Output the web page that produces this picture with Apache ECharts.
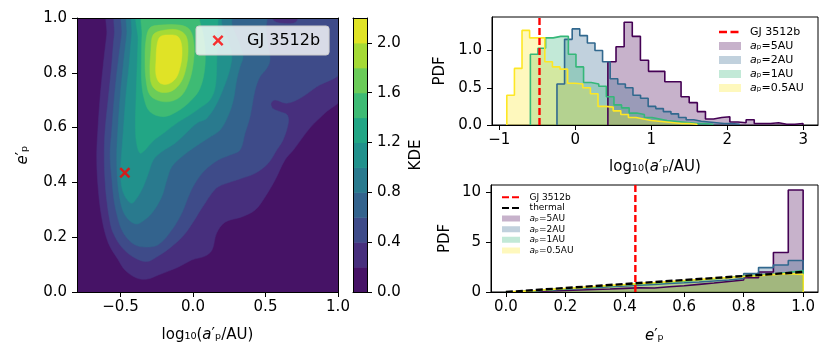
<!DOCTYPE html>
<html>
<head>
<meta charset="utf-8">
<script src="https://cdn.jsdelivr.net/npm/echarts@6/dist/echarts.min.js"></script>
<style>
html, body { margin: 0; padding: 0; background: #fff; }
#chart { width: 830px; height: 359px; }
</style>
</head>
<body>
<div id="chart"></div>
<script>
var FONT = 'DejaVu Sans';

// ---- left panel: KDE filled contours (outline of region >= level), log10(a'), e'
var kdeLevels = [0.0, 0.2, 0.4, 0.6, 0.8, 1.0, 1.2, 1.4, 1.6, 1.8, 2.0, 2.2];
var kdeColors = ['#461366', '#472f7d', '#3e4b89', '#33638d', '#297a8e', '#21918c',
    '#22a685', '#3ebb74', '#6bcc59', '#a5da36', '#e0e326'];
var contour02 = [[-0.572, 1.03], [-0.595, 0.938], [-0.619, 0.828], [-0.641, 0.708], [-0.657, 0.584],
    [-0.664, 0.5], [-0.657, 0.398], [-0.630, 0.274], [-0.584, 0.179], [-0.515, 0.117], [-0.469, 0.080],
    [-0.388, 0.051], [-0.317, 0.047], [-0.239, 0.062], [-0.101, 0.091], [-0.009, 0.117], [0.083, 0.131],
    [0.131, 0.153], [0.163, 0.215], [0.221, 0.255], [0.336, 0.274], [0.428, 0.299], [0.497, 0.347],
    [0.566, 0.409], [0.634, 0.482], [0.692, 0.518], [0.807, 0.599], [0.910, 0.653], [1.03, 0.715], [1.03, 1.03]];
var contour04 = [[-0.515, 1.03], [-0.543, 0.938], [-0.561, 0.828], [-0.584, 0.708], [-0.607, 0.584],
    [-0.612, 0.5], [-0.607, 0.409], [-0.595, 0.336], [-0.572, 0.255], [-0.55, 0.215], [-0.492, 0.164],
    [-0.412, 0.128], [-0.319, 0.111], [-0.241, 0.131], [-0.159, 0.161], [-0.069, 0.204], [0.0, 0.255],
    [0.048, 0.296], [0.083, 0.324], [0.129, 0.360], [0.174, 0.384], [0.267, 0.403], [0.336, 0.415],
    [0.428, 0.433], [0.519, 0.470], [0.577, 0.518], [0.621, 0.555], [0.657, 0.616], [0.65, 0.646],
    [0.6, 0.658], [0.55, 0.670], [0.538, 0.689], [0.566, 0.701], [0.646, 0.689], [0.738, 0.707],
    [0.853, 0.749], [1.03, 0.81], [1.03, 1.03], [0.752, 1.03], [0.71, 0.985], [0.634, 0.980],
    [0.559, 0.989], [0.517, 1.03]];
var contour06 = [[-0.469, 1.03], [-0.492, 0.938], [-0.519, 0.828], [-0.543, 0.708], [-0.561, 0.584],
    [-0.572, 0.5], [-0.559, 0.409], [-0.545, 0.336], [-0.524, 0.281], [-0.497, 0.234], [-0.455, 0.197],
    [-0.4, 0.172], [-0.331, 0.164], [-0.241, 0.172], [-0.147, 0.226], [-0.078, 0.287], [-0.032, 0.348],
    [0.014, 0.397], [0.083, 0.445], [0.174, 0.482], [0.255, 0.5], [0.324, 0.518], [0.359, 0.580],
    [0.393, 0.639], [0.428, 0.737], [0.462, 0.786], [0.508, 0.816], [0.531, 0.847], [0.517, 0.901],
    [0.503, 0.956], [0.497, 1.03]];
var contour08 = [[-0.434, 1.03], [-0.457, 0.938], [-0.481, 0.828], [-0.503, 0.708], [-0.519, 0.584],
    [-0.526, 0.5], [-0.521, 0.409], [-0.503, 0.336], [-0.476, 0.288], [-0.434, 0.259], [-0.388, 0.248],
    [-0.345, 0.259], [-0.285, 0.287], [-0.216, 0.348], [-0.181, 0.409], [-0.147, 0.457], [-0.078, 0.494],
    [0.014, 0.530], [0.106, 0.562], [0.186, 0.591], [0.241, 0.642], [0.278, 0.701], [0.301, 0.774],
    [0.324, 0.822], [0.345, 0.861], [0.310, 0.920], [0.269, 0.974], [0.255, 1.03]];
var contour10 = [[-0.4, 1.03], [-0.423, 0.938], [-0.441, 0.828], [-0.464, 0.708], [-0.481, 0.584],
    [-0.493, 0.5], [-0.5, 0.438], [-0.49, 0.380], [-0.462, 0.343], [-0.423, 0.324], [-0.388, 0.342],
    [-0.343, 0.384], [-0.308, 0.433], [-0.274, 0.482], [-0.216, 0.512], [-0.124, 0.543], [-0.048, 0.580],
    [0.028, 0.617], [0.097, 0.635], [0.186, 0.713], [0.267, 0.847], [0.241, 0.920], [0.2, 0.974], [0.179, 1.03]];
var contour12 = [[-0.372, 1.03], [-0.379, 0.920], [-0.386, 0.810], [-0.393, 0.701], [-0.397, 0.609],
    [-0.39, 0.547], [-0.366, 0.507], [-0.331, 0.518], [-0.276, 0.551], [-0.193, 0.584], [-0.103, 0.620],
    [-0.034, 0.642], [0.048, 0.672], [0.117, 0.701], [0.152, 0.745], [0.163, 0.828], [0.163, 0.920], [0.145, 1.03]];
var contour14 = [[-0.338, 1.03], [-0.352, 0.938], [-0.355, 0.865], [-0.355, 0.774], [-0.338, 0.708],
    [-0.297, 0.658], [-0.205, 0.640], [-0.112, 0.658], [-0.021, 0.695], [0.048, 0.743], [0.083, 0.828],
    [0.076, 0.920], [0.048, 0.985], [0.021, 1.03]];
var contour16 = [[-0.297, 0.964], [-0.228, 0.974], [-0.09, 0.974], [-0.021, 0.956], [0.007, 0.901],
    [0.0, 0.828], [-0.028, 0.766], [-0.076, 0.719], [-0.145, 0.697], [-0.228, 0.697], [-0.297, 0.719],
    [-0.324, 0.774], [-0.331, 0.847], [-0.324, 0.920]];
var contour18 = [[-0.262, 0.945], [-0.193, 0.956], [-0.103, 0.956], [-0.048, 0.934], [-0.034, 0.883],
    [-0.048, 0.818], [-0.083, 0.766], [-0.145, 0.734], [-0.228, 0.730], [-0.283, 0.755], [-0.297, 0.810],
    [-0.29, 0.883], [-0.283, 0.927]];
var contour20 = [[-0.228, 0.931], [-0.172, 0.938], [-0.11, 0.934], [-0.083, 0.912], [-0.076, 0.865],
    [-0.09, 0.818], [-0.117, 0.781], [-0.172, 0.759], [-0.228, 0.763], [-0.255, 0.792], [-0.255, 0.847],
    [-0.248, 0.901]];
var kdeContours = [contour02, contour04, contour06, contour08, contour10, contour12,
    contour14, contour16, contour18, contour20];

// GJ 3512b
var gjLogA = -0.47;
var gjE = 0.4356;

// ---- top right: PDF of log10(a'/AU), one histogram per initial a_p
var a5Start = 0.43, a5Width = 0.107;
var a5LogA = [0.85, 1.05, 1.38, 1.19, 0.87, 0.72, 0.72, 0.58, 0.58, 0.38, 0.30, 0.18,
    0.08, 0.10, 0.11, 0.04, 0.03, 0.07, 0.02, 0.02, 0.03, 0.01, 0.01, 0.02];
var a2Start = -0.24, a2Width = 0.1;
var a2LogA = [0.55, 1.15, 1.29, 1.20, 1.10, 1.00, 0.85, 0.62, 0.55, 0.50, 0.40, 0.36,
    0.25, 0.22, 0.18, 0.15, 0.10, 0.07, 0.05, 0.04, 0.03, 0.02, 0.02, 0.01];
var a1Start = -0.59, a1Width = 0.1;
var a1LogA = [0.95, 1.03, 1.17, 1.19, 1.19, 0.95, 0.78, 0.57, 0.55, 0.52, 0.38, 0.27,
    0.23, 0.16, 0.14, 0.10, 0.08, 0.06, 0.05, 0.04, 0.03, 0.02, 0.02, 0.01];
var a05Start = -0.90, a05Width = 0.1;
var a05LogA = [0.40, 0.76, 1.27, 1.17, 1.17, 0.85, 0.78, 0.75, 0.56, 0.55, 0.50, 0.42,
    0.25, 0.24, 0.19, 0.14, 0.10, 0.08, 0.06, 0.05, 0.04, 0.03, 0.02, 0.02, 0.01];

// ---- bottom right: PDF of e', bins of 0.05 from 0 to 1
var eStart = 0, eWidth = 0.05;
var a5Ecc = [0.02, 0.06, 0.10, 0.15, 0.20, 0.25, 0.30, 0.36, 0.42, 0.40, 0.52, 0.62,
    0.76, 0.90, 1.05, 1.20, 1.42, 2.00, 3.95, 10.2];
var a2Ecc = [0.04, 0.12, 0.20, 0.28, 0.36, 0.44, 0.52, 0.60, 0.68, 0.75, 0.85, 0.92,
    1.00, 1.10, 1.20, 1.35, 1.84, 2.44, 2.70, 3.15];
var a1Ecc = [0.05, 0.14, 0.24, 0.33, 0.42, 0.50, 0.60, 0.70, 0.80, 0.88, 0.98, 1.08,
    1.20, 1.30, 1.45, 1.60, 1.70, 1.80, 1.95, 2.15];
var a05Ecc = [0.06, 0.15, 0.26, 0.35, 0.44, 0.55, 0.66, 0.74, 0.86, 0.94, 1.04, 1.15,
    1.24, 1.36, 1.44, 1.55, 1.63, 1.74, 1.84, 1.76];
var thermalLine = [[0, 0], [1, 2]];

var apColors = {a5: '#440154', a2: '#31688e', a1: '#35b779', a05: '#fde725'};
var apFills = {a5: 'rgba(68,1,84,0.3)', a2: 'rgba(49,104,142,0.3)',
    a1: 'rgba(53,183,121,0.3)', a05: 'rgba(253,231,37,0.3)'};

var legendText = {
    gjKde: 'GJ 3512b', gjTop: 'GJ 3512b', gjBot: 'GJ 3512b', thermal: 'thermal',
    a5Top: '{i|a}{n|ₚ=5AU}', a2Top: '{i|a}{n|ₚ=2AU}', a1Top: '{i|a}{n|ₚ=1AU}', a05Top: '{i|a}{n|ₚ=0.5AU}',
    a5Bot: '{i|a}{n|ₚ=5AU}', a2Bot: '{i|a}{n|ₚ=2AU}', a1Bot: '{i|a}{n|ₚ=1AU}', a05Bot: '{i|a}{n|ₚ=0.5AU}'
};

// legend handles: tiny corner specks fix the box so the handle keeps its place
function handle(path, w, h) {
    return 'path://M0,0h0.01v0.01h-0.01zM' + w + ',' + h + 'h-0.01v-0.01h0.01z' + path;
}
var crossMarker = 'path://M0,1.6L1.6,0L5,3.4L8.4,0L10,1.6L6.6,5L10,8.4L8.4,10L5,6.6L1.6,10L0,8.4L3.4,5Z';
var crossHandle = handle('M10.5,1.7L12.2,0L16,3.8L19.8,0L21.5,1.7L17.7,5.5L21.5,9.3L19.8,11L16,7.2L12.2,11L10.5,9.3L14.3,5.5Z', 40, 11);
var dashHandleTop = handle('M0,2.8h8v2.4h-8zM11.5,2.8h8v2.4h-8z', 26, 8);
var patchHandleTop = handle('M0,0h22v8h-22z', 26, 8);
var dashHandleBot = handle('M0,2h7v2h-7zM10,2h7v2h-7z', 22.6, 6);
var patchHandleBot = handle('M0,0h18v6h-18z', 22.6, 6);

function minus(s) {
    return String(s).replace('-', '\u2212');
}

function stepPoints(start, width, heights) {
    let pts = [[start, 0]];
    for (let i = 0; i < heights.length; i++) {
        pts.push([+(start + i * width).toFixed(4), heights[i]]);
    }
    let end = +(start + heights.length * width).toFixed(4);
    pts.push([end, heights[heights.length - 1]]);
    pts.push([end, 0]);
    return pts;
}

function axisBase(grid, pos, min, max) {
    return {
        type: 'value', gridIndex: grid, position: pos, min: min, max: max, z: 10,
        axisLine: {show: true, onZero: false, lineStyle: {color: '#000', width: 1}},
        axisTick: {show: false},
        axisLabel: {show: false},
        splitLine: {show: false}
    };
}

function tickAxis(grid, pos, min, max, ticks, fmt, margin) {
    let ax = axisBase(grid, pos, min, max);
    ax.axisTick = {show: true, length: 5, customValues: ticks, lineStyle: {color: '#000', width: 1}};
    ax.axisLabel = {
        show: true, customValues: ticks, formatter: fmt, margin: margin,
        color: '#000', fontSize: 15, fontFamily: FONT
    };
    return ax;
}

function nameStyle(size) {
    return {
        color: '#000', fontSize: size, fontFamily: FONT,
        rich: {
            n: {fontSize: size, fontFamily: FONT, color: '#000'},
            i: {fontSize: size, fontFamily: FONT, fontStyle: 'italic', color: '#000'}
        }
    };
}

function legendItem(name, icon, color) {
    return {name: name, icon: icon, itemStyle: {color: color, borderWidth: 0}};
}

function histSeries(name, color, fill, points, xi, yi) {
    return {
        name: name, type: 'line', xAxisIndex: xi, yAxisIndex: yi,
        data: points, step: 'end', symbol: 'none', silent: true,
        lineStyle: {color: color, width: 1.6},
        itemStyle: {color: color},
        areaStyle: {color: fill, opacity: 1},
        z: 2
    };
}

let kdeX = tickAxis(0, 'bottom', -0.8, 1.0, [-0.5, 0, 0.5, 1.0], v => minus(v.toFixed(1)), 8);
kdeX.name = '{n|log₁₀(}{i|a}{n|′ₚ/AU)}';
kdeX.nameLocation = 'middle';
kdeX.nameGap = 36;
kdeX.nameTextStyle = nameStyle(15);
let kdeY = tickAxis(0, 'left', 0, 1, [0, 0.2, 0.4, 0.6, 0.8, 1.0], v => v.toFixed(1), 10);
kdeY.name = '{i|e}{n|′ₚ}';
kdeY.nameLocation = 'middle';
kdeY.nameRotate = 90;
kdeY.nameGap = 46;
kdeY.nameTextStyle = nameStyle(15);

let cbarY = tickAxis(1, 'right', 0, 2.2, [0, 0.4, 0.8, 1.2, 1.6, 2.0], v => v.toFixed(1), 10);
cbarY.name = 'KDE';
cbarY.nameLocation = 'middle';
cbarY.nameRotate = 90;
cbarY.nameGap = 42;
cbarY.nameTextStyle = nameStyle(15);

let topX = tickAxis(2, 'bottom', -1.095, 3.195, [-1, 0, 1, 2, 3], v => minus(v.toFixed(0)), 8);
topX.name = '{n|log₁₀(}{i|a}{n|′ₚ/AU)}';
topX.nameLocation = 'middle';
topX.nameGap = 35;
topX.nameTextStyle = nameStyle(15);
let topY = tickAxis(2, 'left', 0, 1.45, [0, 0.5, 1.0], v => v.toFixed(1), 10);
topY.name = 'PDF';
topY.nameLocation = 'middle';
topY.nameRotate = 90;
topY.nameGap = 44;
topY.nameTextStyle = nameStyle(15);

let botX = tickAxis(3, 'bottom', -0.05, 1.05, [0, 0.2, 0.4, 0.6, 0.8, 1.0], v => v.toFixed(1), 8);
botX.name = '{i|e}{n|′ₚ}';
botX.nameLocation = 'middle';
botX.nameGap = 37;
botX.nameTextStyle = nameStyle(15);
let botY = tickAxis(3, 'left', 0, 10.7, [0, 5, 10], v => v.toFixed(0), 10);
botY.name = 'PDF';
botY.nameLocation = 'middle';
botY.nameRotate = 90;
botY.nameGap = 38;
botY.nameTextStyle = nameStyle(15);

let cbarBands = [];
for (let i = 0; i < kdeColors.length; i++) {
    cbarBands.push([kdeLevels[i], kdeLevels[i + 1], i]);
}

let option = {
    animation: false,
    backgroundColor: '#fff',
    grid: [
        {left: 77, top: 18, width: 261, height: 274, show: true, backgroundColor: kdeColors[0], borderWidth: 0},
        {left: 353, top: 18, width: 14, height: 274},
        {left: 492, top: 17, width: 326, height: 108, show: true, borderColor: '#000', borderWidth: 1},
        {left: 491, top: 185, width: 327, height: 107, show: true, borderColor: '#000', borderWidth: 1}
    ],
    xAxis: [
        kdeX,
        axisBase(0, 'top', -0.8, 1.0),
        axisBase(1, 'bottom', 0, 1),
        axisBase(1, 'top', 0, 1),
        topX,
        botX
    ],
    yAxis: [
        kdeY,
        axisBase(0, 'right', 0, 1),
        axisBase(1, 'left', 0, 2.2),
        cbarY,
        topY,
        botY
    ],
    legend: [
        {
            data: [legendItem('gjKde', crossHandle, '#ff0000')],
            left: 196, top: 26, padding: [5, 9, 5, 6],
            itemWidth: 40, itemHeight: 11, symbolKeepAspect: false, selectedMode: false,
            backgroundColor: 'rgba(255,255,255,0.8)', borderColor: '#cccccc', borderWidth: 1, borderRadius: 3,
            formatter: name => legendText[name],
            textStyle: {fontSize: 16, lineHeight: 19, fontFamily: FONT, color: '#000'}
        },
        {
            orient: 'vertical', left: 719, top: 26, padding: 0, itemGap: 2,
            itemWidth: 26, itemHeight: 8, symbolKeepAspect: false, selectedMode: false,
            data: [
                legendItem('gjTop', dashHandleTop, '#ff0000'),
                legendItem('a5Top', patchHandleTop, apFills.a5),
                legendItem('a2Top', patchHandleTop, apFills.a2),
                legendItem('a1Top', patchHandleTop, apFills.a1),
                legendItem('a05Top', patchHandleTop, apFills.a05)
            ],
            formatter: name => legendText[name],
            textStyle: {
                fontSize: 11, lineHeight: 12, fontFamily: FONT, color: '#000',
                rich: {
                    n: {fontSize: 11, lineHeight: 12, fontFamily: FONT, color: '#000'},
                    i: {fontSize: 11, lineHeight: 12, fontFamily: FONT, fontStyle: 'italic', color: '#000'}
                }
            }
        },
        {
            orient: 'vertical', left: 502, top: 192.5, padding: 0, itemGap: 1.15,
            itemWidth: 22.6, itemHeight: 6, symbolKeepAspect: false, selectedMode: false,
            data: [
                legendItem('gjBot', dashHandleBot, '#ff0000'),
                legendItem('thermal', dashHandleBot, '#000000'),
                legendItem('a5Bot', patchHandleBot, apFills.a5),
                legendItem('a2Bot', patchHandleBot, apFills.a2),
                legendItem('a1Bot', patchHandleBot, apFills.a1),
                legendItem('a05Bot', patchHandleBot, apFills.a05)
            ],
            formatter: name => legendText[name],
            textStyle: {
                fontSize: 9, lineHeight: 9.5, fontFamily: FONT, color: '#000',
                rich: {
                    n: {fontSize: 9, lineHeight: 9.5, fontFamily: FONT, color: '#000'},
                    i: {fontSize: 9, lineHeight: 9.5, fontFamily: FONT, fontStyle: 'italic', color: '#000'}
                }
            }
        }
    ],
    series: [
        {
            type: 'custom', name: 'kde', xAxisIndex: 0, yAxisIndex: 0, clip: true, silent: true,
            data: kdeContours.map((c, i) => [0, 0.5, i]),
            renderItem: function (params, api) {
                let k = api.value(2);
                let pts = kdeContours[k].map(p => api.coord(p));
                return {
                    type: 'polygon',
                    shape: {points: pts, smooth: 0.35},
                    style: {fill: kdeColors[k + 1], stroke: kdeColors[k + 1], lineWidth: 0.5}
                };
            },
            z: 2
        },
        {
            type: 'scatter', name: 'gjKde', xAxisIndex: 0, yAxisIndex: 0,
            data: [[gjLogA, gjE]], symbol: crossMarker, symbolSize: 11,
            itemStyle: {color: '#ff0000'}, silent: true, z: 5
        },
        {
            type: 'custom', name: 'colorbar', xAxisIndex: 2, yAxisIndex: 3, silent: true,
            data: cbarBands,
            renderItem: function (params, api) {
                let p0 = api.coord([0, api.value(0)]);
                let p1 = api.coord([1, api.value(1)]);
                return {
                    type: 'rect',
                    shape: {x: p0[0], y: p1[1], width: p1[0] - p0[0], height: p0[1] - p1[1] + 0.5},
                    style: {fill: kdeColors[api.value(2)]}
                };
            },
            z: 2
        },
        histSeries('a5Top', apColors.a5, apFills.a5, stepPoints(a5Start, a5Width, a5LogA), 4, 4),
        histSeries('a2Top', apColors.a2, apFills.a2, stepPoints(a2Start, a2Width, a2LogA), 4, 4),
        histSeries('a1Top', apColors.a1, apFills.a1, stepPoints(a1Start, a1Width, a1LogA), 4, 4),
        histSeries('a05Top', apColors.a05, apFills.a05, stepPoints(a05Start, a05Width, a05LogA), 4, 4),
        {
            name: 'gjTop', type: 'line', xAxisIndex: 4, yAxisIndex: 4, symbol: 'none', silent: true,
            data: [[gjLogA, 0], [gjLogA, 1.45]],
            lineStyle: {color: '#ff0000', width: 2.4, type: [7, 3]}, itemStyle: {color: '#ff0000'}, z: 4
        },
        histSeries('a5Bot', apColors.a5, apFills.a5, stepPoints(eStart, eWidth, a5Ecc), 5, 5),
        histSeries('a2Bot', apColors.a2, apFills.a2, stepPoints(eStart, eWidth, a2Ecc), 5, 5),
        histSeries('a1Bot', apColors.a1, apFills.a1, stepPoints(eStart, eWidth, a1Ecc), 5, 5),
        histSeries('a05Bot', apColors.a05, apFills.a05, stepPoints(eStart, eWidth, a05Ecc), 5, 5),
        {
            name: 'gjBot', type: 'line', xAxisIndex: 5, yAxisIndex: 5, symbol: 'none', silent: true,
            data: [[gjE, 0], [gjE, 10.7]],
            lineStyle: {color: '#ff0000', width: 2.4, type: [7, 3]}, itemStyle: {color: '#ff0000'}, z: 4
        },
        {
            name: 'thermal', type: 'line', xAxisIndex: 5, yAxisIndex: 5, symbol: 'none', silent: true,
            data: thermalLine,
            lineStyle: {color: '#000000', width: 2.4, type: [7, 3]}, itemStyle: {color: '#000000'}, z: 4
        }
    ]
};

let chart = echarts.init(document.getElementById('chart'));
chart.setOption(option);
</script>
</body>
</html>
